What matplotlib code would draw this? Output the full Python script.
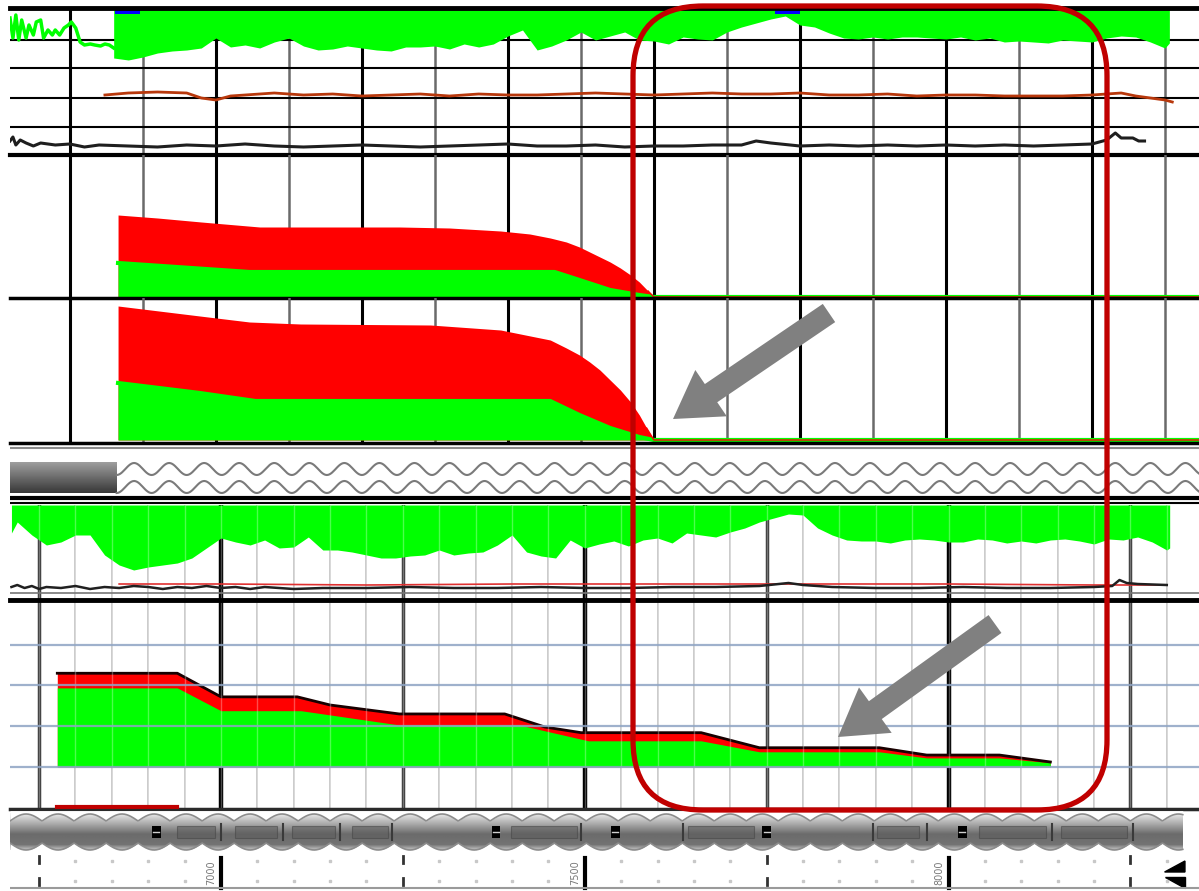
import numpy as np
import matplotlib.pyplot as plt
from matplotlib.patches import FancyBboxPatch, FancyArrow, Polygon, Rectangle

W, H = 1199, 891
LIME, RED = '#00ff00', '#ff0000'

# ---------------- upper log (depth, ft) ----------------
top_xlim = (6659, 7473.3)
top_major = np.arange(6700, 7401, 100)
top_minor = np.arange(6750, 7451, 100)

# gamma ray: plain trace above 6730 ft, shaded below
gr_line_depth = [6659, 6661, 6663, 6665, 6667, 6670, 6672, 6675, 6677, 6680, 6682, 6685, 6688,
                 6690, 6693, 6696, 6699, 6701, 6704, 6707, 6710, 6714, 6717, 6721, 6724, 6727, 6730]
gr_line_val = [137, 117, 140, 115, 135, 117, 130, 120, 133, 135, 117, 125, 120,
               125, 120, 127, 130, 133, 127, 113, 110, 111, 110, 109, 111, 110, 107]
gr_fill_depth = list(range(6730, 7451, 10)) + [7453]
gr_fill_val = [97, 95, 98, 102, 104, 105, 107, 117, 108, 110, 107, 113, 117, 109, 105, 106, 109, 107,
               105, 104, 108, 108, 109, 106, 111, 108, 111, 119, 125, 105, 109, 115, 123, 115, 119, 123,
               115, 114, 111, 118, 116, 115, 123, 128, 132, 136, 139, 130, 128, 122, 117, 116, 118, 116,
               118, 118, 117, 116, 118, 115, 117, 113, 114, 113, 112, 115, 114, 113, 117, 119, 118, 113,
               107, 112]
gr_blue_spans = [(6731, 6748), (7183, 7200)]

res_depth = [6724, 6740, 6760, 6780, 6790, 6800, 6810, 6820, 6840, 6860, 6880, 6900, 6920, 6940,
             6960, 6980, 7000, 7020, 7040, 7060, 7080, 7100, 7120, 7140, 7160, 7180, 7200, 7220,
             7240, 7260, 7280, 7300, 7320, 7340, 7360, 7380, 7400, 7420, 7430, 7440, 7450, 7455]
res_val = [60, 62, 63, 62, 57, 55, 59, 60, 62, 60, 61, 59, 60, 61, 59, 61, 60, 60, 61, 62, 61, 60,
           61, 62, 61, 61, 62, 60, 60, 61, 59, 60, 60, 59, 59, 59, 60, 62, 59, 57, 55, 53]

blk_depth = [6659, 6661, 6663, 6666, 6670, 6675, 6680, 6690, 6700, 6710, 6720, 6740, 6760, 6780,
             6800, 6820, 6840, 6860, 6880, 6900, 6920, 6940, 6960, 6980, 7000, 7020, 7040, 7060,
             7080, 7100, 7120, 7140, 7160, 7170, 7180, 7200, 7220, 7240, 7260, 7280, 7300, 7320,
             7340, 7360, 7380, 7400, 7410, 7416, 7420, 7428, 7432, 7436]
blk_val = [14, 18, 10, 15, 12, 9, 12, 10, 11, 8, 10, 9, 8, 10, 9, 11, 9, 8, 9, 10, 9, 8, 9, 10,
           11, 9, 9, 10, 8, 9, 9, 10, 10, 14, 12, 9, 10, 9, 10, 9, 10, 9, 10, 9, 10, 11, 15, 22,
           17, 17, 14, 14]

# gas / liquid volumes, two pressure tracks
red2_depth = [6733, 6760, 6790, 6830, 6926, 6960, 6995, 7015, 7029, 7040, 7049, 7056, 7063, 7070,
              7077, 7084, 7090, 7096, 7100, 7473]
red2_val = [82, 79, 75, 70, 70, 69, 66, 63, 59, 55, 50, 45, 40, 35, 29, 22, 15, 6, 0, 0]
grn2_depth = [6733, 6823, 7032, 7049, 7070, 7090, 7100, 7473]
grn2_val = [34, 25, 25, 17, 7, 2, 0, 0]

red3_depth = [6733, 6789, 6823, 6858, 6947, 6995, 7029, 7040, 7049, 7056, 7063, 7070, 7077, 7084,
              7090, 7095, 7100, 7473]
red3_val = [134, 124, 118, 116, 115, 110, 100, 92, 85, 78, 70, 60, 50, 38, 25, 12, 0, 0]
grn3_depth = [6733, 6789, 6827, 7029, 7049, 7070, 7090, 7100, 7473]
grn3_val = [57, 47, 39, 39, 25, 12, 3, 0, 0]

# ---------------- lower log (depth, ft) ----------------
bot_xlim = (6710, 8344.3)
bot_major = np.arange(6750, 8251, 250)
bot_minor = np.arange(6750, 8301, 50)
bot_labels = [7000, 7500, 8000]

gr2_depth = [6712] + list(range(6720, 8301, 20)) + [8304]
gr2_val = [67, 78, 65, 55, 58, 65, 65, 45, 35, 30, 33, 35, 37, 42, 52, 62, 58, 55, 60, 52, 53,
           63, 50, 50, 48, 45, 42, 42, 44, 45, 50, 45, 47, 48, 55, 65, 48, 44, 42, 60, 52,
           56, 59, 54, 60, 62, 57, 67, 65, 63, 68, 72, 78, 82, 86, 85, 72, 65, 60, 59, 59,
           57, 60, 61, 60, 58, 58, 61, 60, 57, 59, 57, 60, 61, 59, 56, 61, 60, 63, 58, 50, 52]
blk2_depth = [6712, 6720, 6730, 6740, 6750, 6760, 6780, 6800, 6820, 6840, 6860, 6880, 6900, 6920,
              6940, 6960, 6980, 7000, 7020, 7040, 7060, 7080, 7100, 7140, 7200, 7260, 7320, 7380,
              7440, 7500, 7560, 7620, 7680, 7740, 7780, 7800, 7840, 7900, 7960, 8020, 8080, 8140,
              8200, 8225, 8235, 8245, 8260, 8300]
blk2_val = [13, 15, 12, 14, 11, 13, 12, 14, 11, 13, 12, 14, 13, 11, 13, 12, 14, 12, 13, 11, 13,
            12, 11, 12, 12, 13, 12, 12, 13, 12, 12, 13, 13, 14, 17, 15, 13, 12, 12, 13, 12, 12,
            13, 14, 20, 17, 16, 15]
red2b_depth = [6860, 7000, 7200, 7400, 7600, 7800, 8000, 8200, 8300]
red2b_val = [16, 16, 15, 16, 16, 16, 16, 15, 15]

# pressure steps (1 grid step per unit)
step_red_depth = [6775, 6940, 7000, 7105, 7150, 7245, 7390, 7445, 7495, 7660, 7740, 7905, 7970,
                  8070, 8140]
step_red_val = [2.30, 2.30, 1.72, 1.72, 1.52, 1.30, 1.30, 0.98, 0.84, 0.84, 0.47, 0.47, 0.29,
                0.29, 0.12]
step_grn_depth = [6775, 6940, 7000, 7110, 7245, 7410, 7505, 7660, 7740, 7905, 7970, 8070, 8140]
step_grn_val = [1.94, 1.94, 1.38, 1.38, 1.03, 1.03, 0.64, 0.64, 0.37, 0.37, 0.22, 0.22, 0.10]
red_flag = [6775, 6940]

# tool string graphics
bars = [(6940, 6992), (7019, 7077), (7098, 7157), (7180, 7230), (7399, 7489), (7642, 7733),
        (7902, 7960), (8042, 8134), (8155, 8245)]
joints = [6911, 7378, 7542, 7750, 8019]
brackets = [7000, 7085, 7164, 7235, 7495, 7635, 7896, 7970, 8142, 8254]

# callout
callout_box = (633, 6, 1107, 810)
arrows = [((829, 313), (673, 419)), ((995, 624), (838, 737))]

fig = plt.figure(figsize=(W / 100, H / 100), dpi=100)
fig.patch.set_facecolor('white')


def panel(x0, y0, x1, y1, xlim, ylim, z=1):
    ax = fig.add_axes([x0 / W, 1 - y1 / H, (x1 - x0) / W, (y1 - y0) / H], zorder=z)
    ax.set_xlim(*xlim)
    ax.set_ylim(*ylim)
    ax.axis('off')
    ax.patch.set_alpha(0)
    return ax


def top_grid(ax):
    for d in top_major:
        ax.axvline(d, color='black', lw=2.2, zorder=1)
    for d in top_minor:
        ax.axvline(d, color='#6a6a6a', lw=1.8, zorder=1)


# track 1: gamma ray, resistivity, caliper
t1 = panel(10, 8, 1199, 155, top_xlim, (0, 147))
top_grid(t1)
for v in [28, 57, 87, 115]:
    t1.axhline(v, color='black', lw=1.5, zorder=1)
t1.axhline(147, color='black', lw=3.5, clip_on=False, zorder=5)
t1.axhline(0, color='black', lw=3, clip_on=False, zorder=5)
t1.plot(gr_line_depth, gr_line_val, color=LIME, lw=2.5, zorder=3)
t1.fill_between(gr_fill_depth, gr_fill_val, 147, color=LIME, lw=0, zorder=3)
for a, b in gr_blue_spans:
    t1.fill_between([a, b], 141, 147, color='#0000ff', lw=0, zorder=4)
t1.plot(res_depth, res_val, color='#b8380c', lw=2, zorder=4)
t1.plot(blk_depth, blk_val, color='#1e1e1e', lw=2.2, zorder=4)

# tracks 2 and 3: stacked volumes
t2 = panel(10, 155, 1199, 298, top_xlim, (-1, 142))
top_grid(t2)
t2.fill_between(red2_depth, 0, red2_val, color=RED, lw=0, zorder=3)
t2.fill_between(grn2_depth, 0, grn2_val, color=LIME, lw=0, zorder=3)
t2.plot(grn2_depth, grn2_val, color=LIME, lw=3, zorder=3)
t2.plot(red2_depth[-3:], red2_val[-3:], color=RED, lw=1, zorder=4)
t2.axhline(-1, color='black', lw=2.5, clip_on=False, zorder=5)

t3 = panel(10, 298, 1199, 443, top_xlim, (-3, 142))
top_grid(t3)
t3.fill_between(red3_depth, 0, red3_val, color=RED, lw=0, zorder=3)
t3.fill_between(grn3_depth, 0, grn3_val, color=LIME, lw=0, zorder=3)
t3.plot(grn3_depth, grn3_val, color=LIME, lw=3, zorder=3)
t3.plot(red3_depth[-3:], red3_val[-3:], color=RED, lw=1, zorder=4)
t3.axhline(-3, color='black', lw=2.5, clip_on=False, zorder=5)

# casing strip between the two logs
s1 = panel(10, 443, 1199, 505, top_xlim, (0, 62))
s1.axhline(57, color='#8a8a8a', lw=1.5)
s1.axhline(7, color='black', lw=3)
s1.axhline(2, color='black', lw=1.5)
grad = np.linspace(0.62, 0.22, 40)[:, None] * np.ones((1, 20))
s1.imshow(grad, cmap='gray', vmin=0, vmax=1, aspect='auto',
          extent=(top_xlim[0], 6732, 12, 42), zorder=2)
wx = np.linspace(6732, top_xlim[1], 800)
phase = 2 * np.pi * (wx - 6732) / 24
s1.plot(wx, 36 - 6 * np.cos(phase), color='#7a7a7a', lw=1.5)
s1.plot(wx, 18 - 6 * np.cos(phase), color='#7a7a7a', lw=1.5)

# lower log track 1
b1 = panel(10, 505, 1199, 600, bot_xlim, (0, 95))
b2 = panel(10, 600, 1199, 810, bot_xlim, (-1.06, 4.10))
for ax in (b1, b2):
    for d in bot_minor:
        ax.axvline(d, color='#c4c4c4', lw=1.3, zorder=1)
    for d in bot_major:
        heavy = d % 500 == 0
        ax.axvline(d, color='black' if heavy else '#3a3a3a', lw=3.2 if heavy else 2.5, zorder=2)

b1.fill_between(gr2_depth, gr2_val, 95, color=LIME, lw=0, zorder=3)
for d in bot_minor:
    b1.axvline(d, color='white', lw=1, alpha=0.3, zorder=4)
b1.plot(red2b_depth, red2b_val, color='#e03030', lw=1.2, zorder=5)
b1.plot(blk2_depth, blk2_val, color='#202020', lw=1.8, zorder=5)
b1.axhline(7, color='#777777', lw=1.2, zorder=5)

# lower log track 2: pressure steps
b2.fill_between(step_red_depth, 0, step_red_val, color=RED, lw=0, zorder=3)
b2.fill_between(step_grn_depth, 0, step_grn_val, color=LIME, lw=0, zorder=3)
b2.plot(step_red_depth, step_red_val, color='#180000', lw=2, zorder=4)
for d in bot_minor:
    b2.axvline(d, color='white', lw=1, alpha=0.3, zorder=4)
for v in [0, 1, 2, 3]:
    b2.axhline(v, color='#8ea4c4', lw=1.6, alpha=0.85, zorder=5)
b2.axhline(4.10, color='black', lw=3.5, clip_on=False, zorder=6)
b2.axhline(-1.03, color='#2a2a2a', lw=2.5, clip_on=False, zorder=6)
b2.plot(red_flag, [-0.99, -0.99], color='#c00000', lw=3, zorder=7)

# tool string band
b3 = panel(10, 810, 1199, 852, bot_xlim, (0, 42))
band = np.interp(np.arange(36), [0, 8, 20, 30, 35], [0.92, 0.72, 0.42, 0.45, 0.75])[:, None]
b3.imshow(band * np.ones((1, 10)), cmap='gray', vmin=0, vmax=1, aspect='auto',
          extent=(bot_xlim[0], 8322, 2, 38), zorder=1)
sx = np.linspace(bot_xlim[0], 8322, 1600)
hump = np.abs(np.sin(np.pi * (sx - bot_xlim[0]) / 44))
b3.fill_between(sx, 31 + 7 * hump, 42, color='white', lw=0, zorder=2)
b3.fill_between(sx, 0, 9 - 7 * hump, color='white', lw=0, zorder=2)
b3.plot(sx, 31 + 7 * hump, color='#8c8c8c', lw=1.2, zorder=3)
b3.plot(sx, 9 - 7 * hump, color='#8c8c8c', lw=1.2, zorder=3)
for a, b in bars:
    b3.add_patch(Rectangle((a, 14), b - a, 12, facecolor='#5c5c5c', edgecolor='#444444',
                           alpha=0.55, lw=0.8, zorder=4))
for d in brackets:
    b3.plot([d, d], [12, 28], color='#3a3a3a', lw=1.5, zorder=5)
for d in joints:
    b3.add_patch(Rectangle((d - 6, 14), 12, 12, facecolor='black', zorder=5))
    b3.plot([d - 4, d + 4], [20, 20], color='#cfcfcf', lw=1, zorder=6)
b3.axhline(42, color='#2a2a2a', lw=1.5, clip_on=False)

# depth ruler
b4 = panel(10, 852, 1199, 891, bot_xlim, (0, 39))
for d in bot_minor:
    if d % 250:
        b4.plot([d, d], [30, 10], ls='none', marker='s', ms=1.5, color='#c8c8c8')
for d in bot_major:
    if d % 500 == 0:
        b4.plot([d, d], [3, 33], color='black', lw=3)
    else:
        b4.plot([d, d], [28, 35], color='#333333', lw=2)
        b4.plot([d, d], [6, 13], color='#333333', lw=2)
for d in bot_labels:
    b4.text(d - 13, 18, str(d), rotation=90, fontsize=7, color='#7a7a7a',
            ha='center', va='center')
b4.axhline(3, color='#9a9a9a', lw=1.5)
b4.add_patch(Polygon([(8297, 19), (8325, 30), (8325, 19)], closed=True, color='black'))
b4.add_patch(Polygon([(8297, 14), (8325, 14), (8325, 3)], closed=True, color='black'))

# callout overlay in figure pixels
ov = fig.add_axes([0, 0, 1, 1], zorder=20)
ov.set_xlim(0, W)
ov.set_ylim(H, 0)
ov.axis('off')
ov.patch.set_alpha(0)
x0, y0, x1, y1 = callout_box
ov.add_patch(FancyBboxPatch((x0, y0), x1 - x0, y1 - y0,
                            boxstyle='round,pad=0,rounding_size=70',
                            fill=False, edgecolor='#c00000', lw=3.8))
for (tx, ty), (hx, hy) in arrows:
    ov.add_patch(FancyArrow(tx, ty, hx - tx, hy - ty, width=22, head_width=56,
                            head_length=46, length_includes_head=True,
                            color='#808080', lw=0))

fig.savefig('out.png', dpi=100, facecolor='white')
